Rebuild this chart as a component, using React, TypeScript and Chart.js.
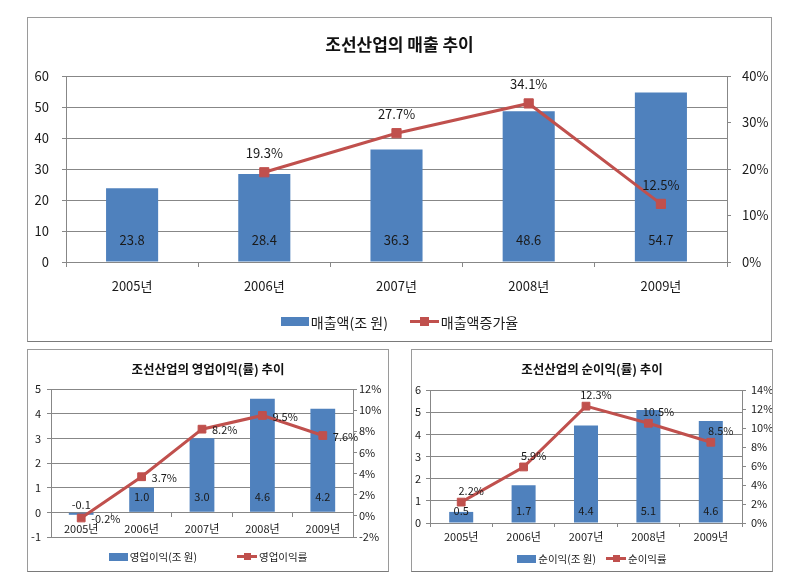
import React, { useEffect, useRef } from 'react';
import { Chart, registerables } from 'chart.js';

Chart.register(...registerables);

const FONT = "'Noto Sans CJK KR', 'Noto Sans', sans-serif";
Chart.defaults.font.family = FONT;
Chart.defaults.color = '#1a1a1a';

// ---------- data ----------
const years = ['2005년', '2006년', '2007년', '2008년', '2009년'];

const salesTitle = '조선산업의 매출 추이';
const salesBarLabel = '매출액(조 원)';
const salesLineLabel = '매출액증가율';
const salesValues = [23.8, 28.4, 36.3, 48.6, 54.7];
const salesGrowth = [null, 19.3, 27.7, 34.1, 12.5];

const opTitle = '조선산업의 영업이익(률) 추이';
const opBarLabel = '영업이익(조 원)';
const opLineLabel = '영업이익률';
const opProfitValues = [-0.1, 1.0, 3.0, 4.6, 4.2];
const opMarginValues = [-0.2, 3.7, 8.2, 9.5, 7.6];

const netTitle = '조선산업의 순이익(률) 추이';
const netBarLabel = '순이익(조 원)';
const netLineLabel = '순이익률';
const netProfitValues = [0.5, 1.7, 4.4, 5.1, 4.6];
const netMarginValues = [2.2, 5.9, 12.3, 10.5, 8.5];

// ---------- styles ----------
const BAR_BLUE = '#4F81BD';
const LINE_RED = '#C0504D';
const GRID = '#878787';
const TEXT = '#1a1a1a';

const valueLabels = {
  id: 'valueLabels',
  afterDatasetsDraw(chart: any) {
    const ctx = chart.ctx;
    chart.data.datasets.forEach((ds: any, i: number) => {
      const cfg = ds.labelCfg;
      if (!cfg) return;
      const meta = chart.getDatasetMeta(i);
      meta.data.forEach((el: any, j: number) => {
        const v = ds.data[j];
        if (v === null || v === undefined) return;
        const p = el.getProps(['x', 'y', 'base'], true);
        const px = p.x + (cfg.dx || 0);
        let py: number;
        if (cfg.mode === 'base') {
          py = p.base + (v < 0 ? cfg.dyNeg : cfg.dy);
        } else {
          py = p.y + cfg.dy;
        }
        ctx.save();
        ctx.font = `${cfg.size}px ${FONT}`;
        ctx.fillStyle = TEXT;
        ctx.textAlign = cfg.align;
        ctx.textBaseline = 'middle';
        ctx.fillText(cfg.fmt(v), px, py);
        ctx.restore();
      });
    });
  },
};

const fixedWidth = (w: number) => (s: any) => { s.width = w; };
const fixedHeight = (h: number) => (s: any) => { s.height = h; };

function buildTop() {
  return {
    type: 'bar',
    data: {
      labels: years,
      datasets: [
        {
          type: 'line', label: salesLineLabel, data: salesGrowth, yAxisID: 'y1',
          borderColor: LINE_RED, backgroundColor: LINE_RED, borderWidth: 3,
          pointStyle: 'rect', pointRadius: 6.5, pointBorderWidth: 1,
          pointBackgroundColor: LINE_RED, pointBorderColor: LINE_RED,
          tension: 0, spanGaps: false, order: 0,
          labelCfg: { mode: 'point', dx: 0, dy: -19, align: 'center', size: 13, fmt: (v: number) => v.toFixed(1) + '%' },
        },
        {
          type: 'bar', label: salesBarLabel, data: salesValues, yAxisID: 'y',
          backgroundColor: BAR_BLUE, barPercentage: 0.394, categoryPercentage: 1, order: 1,
          labelCfg: { mode: 'base', dy: -21, dyNeg: -8, align: 'center', size: 13, fmt: (v: number) => v.toFixed(1) },
        },
      ],
    },
    options: {
      responsive: false, animation: false, devicePixelRatio: 1,
      layout: { padding: { top: 58, left: 0, right: 0, bottom: 0 } },
      plugins: { legend: { display: false }, title: { display: false }, tooltip: { enabled: false } },
      scales: {
        x: {
          type: 'category', offset: true,
          grid: { display: true, drawOnChartArea: false, drawTicks: true, tickLength: 5, color: GRID, offset: true },
          border: { display: true, color: GRID },
          ticks: { padding: 11, font: { size: 13 }, color: TEXT },
          afterFit: fixedHeight(79),
        },
        y: {
          type: 'linear', position: 'left', min: 0, max: 60,
          ticks: { stepSize: 10, padding: 13, font: { size: 13 }, color: TEXT },
          grid: { color: GRID, tickLength: 4, drawTicks: true },
          border: { color: GRID },
          afterFit: fixedWidth(38),
        },
        y1: {
          type: 'linear', position: 'right', min: 0, max: 40,
          ticks: { stepSize: 10, padding: 11, font: { size: 13 }, color: TEXT, callback: (v: any) => v + '%' },
          grid: { drawOnChartArea: false, color: GRID, tickLength: 4 },
          border: { color: GRID },
          afterFit: fixedWidth(44),
        },
      },
    },
    plugins: [valueLabels],
  };
}

function buildOp() {
  return {
    type: 'bar',
    data: {
      labels: years,
      datasets: [
        {
          type: 'line', label: opLineLabel, data: opMarginValues, yAxisID: 'y1',
          borderColor: LINE_RED, backgroundColor: LINE_RED, borderWidth: 3,
          pointStyle: 'rect', pointRadius: 5.5, pointBorderWidth: 1,
          pointBackgroundColor: LINE_RED, pointBorderColor: LINE_RED,
          tension: 0, order: 0,
          labelCfg: { mode: 'point', dx: 10, dy: 1, align: 'left', size: 11, fmt: (v: number) => v.toFixed(1) + '%' },
        },
        {
          type: 'bar', label: opBarLabel, data: opProfitValues, yAxisID: 'y',
          backgroundColor: BAR_BLUE, barPercentage: 0.41, categoryPercentage: 1, order: 1,
          labelCfg: { mode: 'base', dy: -15, dyNeg: -8, align: 'center', size: 11, fmt: (v: number) => v.toFixed(1) },
        },
      ],
    },
    options: {
      responsive: false, animation: false, devicePixelRatio: 1,
      layout: { padding: { top: 39, left: 0, right: 0, bottom: 34 } },
      plugins: { legend: { display: false }, title: { display: false }, tooltip: { enabled: false } },
      scales: {
        x: {
          type: 'category', offset: true, position: { y: 0 },
          grid: { display: true, drawOnChartArea: false, drawTicks: true, tickLength: 4, color: GRID, offset: true },
          border: { display: true, color: GRID },
          ticks: { padding: 6, font: { size: 11 }, color: TEXT },
        },
        y: {
          type: 'linear', position: 'left', min: -1, max: 5,
          ticks: { stepSize: 1, padding: 6, font: { size: 11 }, color: TEXT },
          grid: { color: GRID, tickLength: 4, drawTicks: true },
          border: { color: GRID },
          afterFit: fixedWidth(23),
        },
        y1: {
          type: 'linear', position: 'right', min: -2, max: 12,
          ticks: { stepSize: 2, padding: 2, font: { size: 11 }, color: TEXT, callback: (v: any) => v + '%' },
          grid: { drawOnChartArea: false, color: GRID, tickLength: 4 },
          border: { color: GRID },
          afterFit: fixedWidth(35),
        },
      },
    },
    plugins: [valueLabels],
  };
}

function buildNet() {
  return {
    type: 'bar',
    data: {
      labels: years,
      datasets: [
        {
          type: 'line', label: netLineLabel, data: netMarginValues, yAxisID: 'y1',
          borderColor: LINE_RED, backgroundColor: LINE_RED, borderWidth: 3,
          pointStyle: 'rect', pointRadius: 5.5, pointBorderWidth: 1,
          pointBackgroundColor: LINE_RED, pointBorderColor: LINE_RED,
          tension: 0, order: 0,
          labelCfg: { mode: 'point', dx: 10, dy: -11, align: 'center', size: 11, fmt: (v: number) => v.toFixed(1) + '%' },
        },
        {
          type: 'bar', label: netBarLabel, data: netProfitValues, yAxisID: 'y',
          backgroundColor: BAR_BLUE, barPercentage: 0.385, categoryPercentage: 1, order: 1,
          labelCfg: { mode: 'base', dy: -12, dyNeg: -8, align: 'center', size: 11, fmt: (v: number) => v.toFixed(1) },
        },
      ],
    },
    options: {
      responsive: false, animation: false, devicePixelRatio: 1,
      layout: { padding: { top: 40, left: 0, right: 0, bottom: 0 } },
      plugins: { legend: { display: false }, title: { display: false }, tooltip: { enabled: false } },
      scales: {
        x: {
          type: 'category', offset: true,
          grid: { display: true, drawOnChartArea: false, drawTicks: true, tickLength: 4, color: GRID, offset: true },
          border: { display: true, color: GRID },
          ticks: { padding: 3, font: { size: 11 }, color: TEXT },
          afterFit: fixedHeight(48),
        },
        y: {
          type: 'linear', position: 'left', min: 0, max: 6,
          ticks: { stepSize: 1, padding: 5, font: { size: 11 }, color: TEXT },
          grid: { color: GRID, tickLength: 4, drawTicks: true },
          border: { color: GRID },
          afterFit: fixedWidth(18),
        },
        y1: {
          type: 'linear', position: 'right', min: 0, max: 14,
          ticks: { stepSize: 2, padding: 5, font: { size: 11 }, color: TEXT, callback: (v: any) => v + '%' },
          grid: { drawOnChartArea: false, color: GRID, tickLength: 4 },
          border: { color: GRID },
          afterFit: fixedWidth(30),
        },
      },
    },
    plugins: [valueLabels],
  };
}

function ChartCanvas({ width, height, build }: any) {
  const ref = useRef<HTMLCanvasElement>(null);
  useEffect(() => {
    const chart = new Chart(ref.current as HTMLCanvasElement, build());
    return () => chart.destroy();
  }, []);
  return (
    <canvas
      ref={ref}
      width={width}
      height={height}
      style={{ position: 'absolute', left: 0, top: 0, width, height }}
    />
  );
}

function Title({ cy, size, text }: any) {
  return (
    <div
      style={{
        position: 'absolute', left: 0, right: 0, top: cy - size * 0.6, height: size * 1.2,
        textAlign: 'center', fontFamily: FONT, fontWeight: 700, fontSize: size,
        lineHeight: 1.2, color: '#111', whiteSpace: 'nowrap',
      }}
    >
      {text}
    </div>
  );
}

function Legend({ cy, fontSize, gap, swatchW, swatchH, lineW, markerSize, barLabel, lineLabel }: any) {
  const h = Math.max(fontSize * 1.2, markerSize);
  return (
    <div
      style={{
        position: 'absolute', left: 0, right: 0, top: cy - h / 2, height: h,
        display: 'flex', justifyContent: 'center', alignItems: 'center',
        fontFamily: FONT, fontSize, color: TEXT, lineHeight: 1.2, whiteSpace: 'nowrap',
      }}
    >
      <span style={{ display: 'inline-block', width: swatchW, height: swatchH, background: BAR_BLUE, marginRight: 2 }} />
      <span>{barLabel}</span>
      <span style={{ display: 'inline-block', width: gap }} />
      <span style={{ position: 'relative', display: 'inline-block', width: lineW, height: markerSize }}>
        <span style={{ position: 'absolute', left: 0, right: 0, top: (markerSize - 3) / 2, height: 3, background: LINE_RED }} />
        <span style={{ position: 'absolute', left: (lineW - markerSize) / 2, top: 0, width: markerSize, height: markerSize, background: LINE_RED }} />
      </span>
      <span style={{ marginLeft: 2 }}>{lineLabel}</span>
    </div>
  );
}

function Frame({ left, top, width, height, children }: any) {
  return (
    <div
      style={{
        position: 'absolute', left, top, width, height, boxSizing: 'border-box',
        border: '1px solid #9a9a9a', borderBottomColor: '#7a7a7a', background: '#fff',
      }}
    >
      {children}
    </div>
  );
}

export default function App() {
  return (
    <div style={{ position: 'absolute', left: 0, top: 0, width: 798, height: 588, background: '#fff', overflow: 'hidden' }}>
      <Frame left={27} top={17} width={745} height={325}>
        <ChartCanvas width={743} height={323} build={buildTop} />
        <Title cy={26} size={17} text={salesTitle} />
        <Legend cy={304} fontSize={14} gap={22} swatchW={28} swatchH={9} lineW={29} markerSize={9}
          barLabel={salesBarLabel} lineLabel={salesLineLabel} />
      </Frame>
      <Frame left={27} top={349} width={362} height={223}>
        <ChartCanvas width={360} height={221} build={buildOp} />
        <Title cy={18} size={12.5} text={opTitle} />
        <Legend cy={207} fontSize={10.5} gap={40} swatchW={19} swatchH={8} lineW={20} markerSize={7}
          barLabel={opBarLabel} lineLabel={opLineLabel} />
      </Frame>
      <Frame left={411} top={349} width={362} height={223}>
        <ChartCanvas width={360} height={221} build={buildNet} />
        <Title cy={18} size={12.5} text={netTitle} />
        <Legend cy={209} fontSize={10.5} gap={10} swatchW={19} swatchH={8} lineW={20} markerSize={7}
          barLabel={netBarLabel} lineLabel={netLineLabel} />
      </Frame>
    </div>
  );
}
